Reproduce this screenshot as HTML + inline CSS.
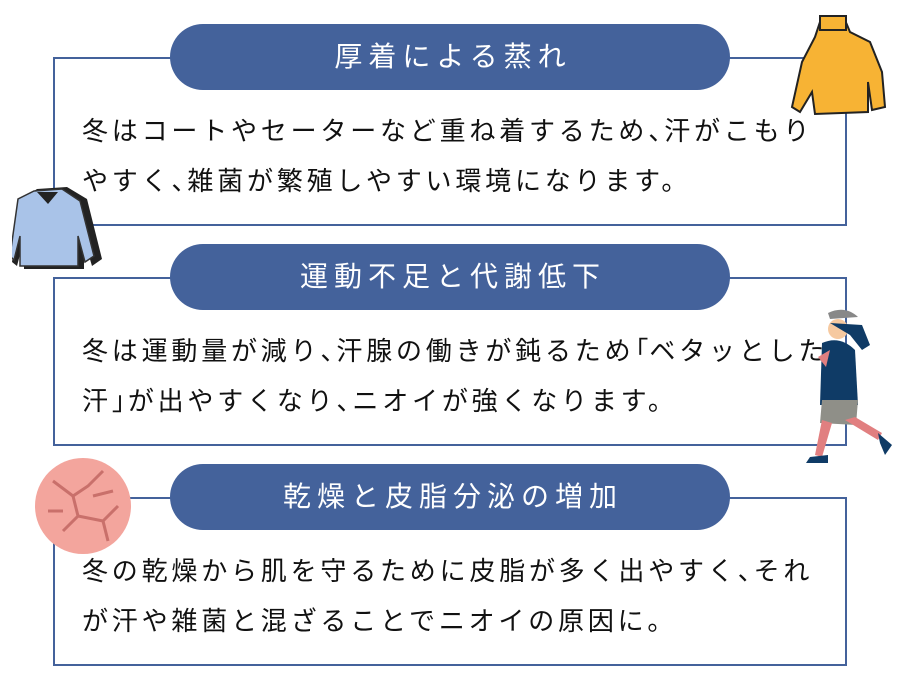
<!DOCTYPE html>
<html><head><meta charset="utf-8"><style>
body{margin:0;width:900px;height:692px;background:#fff;position:relative;overflow:hidden;font-family:"Liberation Sans","Noto Sans CJK JP",sans-serif;}
.box{position:absolute;left:53px;width:794px;height:169px;border:2px solid #44629b;box-sizing:border-box;}
.pill{position:absolute;left:170px;width:560px;height:66px;border-radius:33px;background:#44629b;color:#fff;font-size:28px;letter-spacing:6px;text-indent:6px;text-align:center;line-height:66px;}
.txt{position:absolute;left:82px;font-size:26px;letter-spacing:3.8px;line-height:50px;color:#111;white-space:nowrap;}
.p{display:inline-block;width:16px;overflow:visible;letter-spacing:0;}
.q{display:inline-block;width:15px;letter-spacing:0;}
.q span{margin-left:-12px;}
svg{position:absolute;}
</style></head><body>
<div class="box" style="top:57px"></div>
<div class="pill" style="top:24px">厚着による蒸れ</div>
<div class="txt" style="top:106px">冬はコートやセーターなど重ね着するため<span class="p">、</span>汗がこもり<br>やすく<span class="p">、</span>雑菌が繁殖しやすい環境になります。</div>

<div class="box" style="top:277px"></div>
<div class="pill" style="top:244px">運動不足と代謝低下</div>
<div class="txt" style="top:326px">冬は運動量が減り<span class="p">、</span>汗腺の働きが鈍るため<span class="q"><span>「</span></span>ベタッとした<br>汗<span class="p">」</span>が出やすくなり<span class="p">、</span>ニオイが強くなります。</div>

<div class="box" style="top:497px"></div>
<div class="pill" style="top:464px">乾燥と皮脂分泌の増加</div>
<div class="txt" style="top:546px">冬の乾燥から肌を守るために皮脂が多く出やすく<span class="p">、</span>それ<br>が汗や雑菌と混ざることでニオイの原因に。</div>

<!-- sweater -->
<svg style="left:790px;top:12px" width="100" height="110" viewBox="0 0 100 110">
<path d="M30 10 L55 8 L60 20 L80 30 L92 60 L95 95 L82 98 L78 70 L78 100 L25 102 L22 80 L10 100 L2 95 L12 50 L25 25 Z" fill="#f7b334" stroke="#222" stroke-width="2"/>
<rect x="30" y="4" width="26" height="14" fill="#f7b334" stroke="#222" stroke-width="2"/>
</svg>
<!-- jacket -->
<svg style="left:12px;top:184px" width="95" height="90" viewBox="0 0 95 90">
<path d="M25 5 L55 3 L75 15 L90 75 L80 82 L72 55 L72 85 L12 85 L12 55 L5 82 L0 78 L10 15 Z" fill="#222"/>
<path d="M22 7 L50 5 L68 17 L82 72 L73 78 L66 52 L66 82 L8 82 L8 52 L2 76 L-2 72 L6 15 Z" fill="#a9c3e8" stroke="#333" stroke-width="1.5"/>
<path d="M25 8 L36 20 L46 8" fill="#222"/>
</svg>
<!-- runner -->
<svg style="left:800px;top:305px" width="100" height="165" viewBox="0 0 100 165">
<path d="M28 8 Q45 0 58 12 L30 14 Z" fill="#888"/>
<circle cx="38" cy="24" r="10" fill="#f6c9a0"/>
<path d="M30 18 L62 20 L70 40 L62 45 L50 30 Z" fill="#0f3b66"/>
<path d="M22 38 Q40 30 55 45 L58 100 L20 100 Z" fill="#0f3b66"/>
<path d="M18 52 L30 45 L26 62 Z" fill="#e17f80"/>
<path d="M22 95 L58 95 L56 120 L20 118 Z" fill="#8f8f88"/>
<path d="M22 115 L15 150 L22 152 L32 118 Z" fill="#e17f80"/>
<path d="M45 115 L78 135 L82 128 L55 112 Z" fill="#e17f80"/>
<path d="M10 152 L28 150 L28 158 L6 158 Z" fill="#0f3b66"/>
<path d="M78 128 L92 140 L85 150 L80 138 Z" fill="#0f3b66"/>
</svg>
<!-- skin circle -->
<svg style="left:33px;top:456px" width="100" height="100" viewBox="0 0 100 100">
<circle cx="50" cy="50" r="48" fill="#f3a59d"/>
<g stroke="#c9706b" stroke-width="3" fill="none">
<path d="M20 25 L40 40 L55 30 L70 15"/><path d="M40 40 L45 60 L30 75"/><path d="M45 60 L70 65 L85 50"/><path d="M70 65 L75 85"/><path d="M15 55 L30 55"/><path d="M60 40 L80 35"/>
</g>
</svg>
</body></html>
